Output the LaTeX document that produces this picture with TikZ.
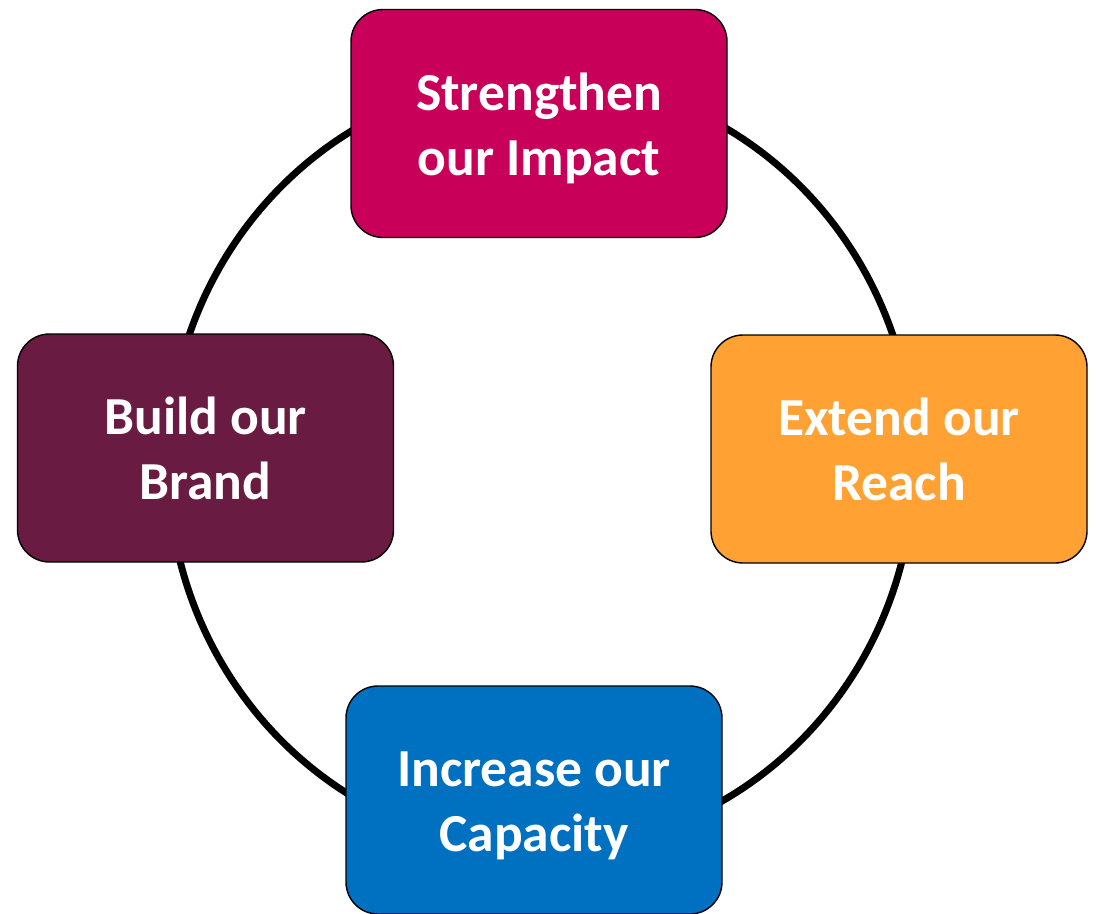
\documentclass[tikz,border=0pt]{standalone}
\usepackage{fontspec}
\setmainfont{Carlito}
\definecolor{impact}{HTML}{C8005A}
\definecolor{brand}{HTML}{6A1B41}
\definecolor{reach}{HTML}{FFA133}
\definecolor{capacity}{HTML}{0070C0}
% two centred lines, with extra room on top so they sit a little low
\newcommand\goallines[2]{\raisebox{0pt}[\dimexpr\height+12pt\relax][\depth]{\begin{tabular}{@{}c@{}}#1\\#2\end{tabular}}}
\tikzset{
  goal/.style={rectangle, rounded corners=32pt, draw=black, line width=1.4pt,
    minimum width=376pt, minimum height=228pt, inner sep=0pt,
    text=white, align=center,
    font=\bfseries\fontsize{53.5}{65}\selectfont},
  ring/.style={line width=7pt, draw=black}
}
\begin{document}
\begin{tikzpicture}[x=1pt,y=-1pt]
  \useasboundingbox (0,0) rectangle (1097,913);
  % cycle ring behind the boxes
  \draw[ring] (541,463.5) ellipse [x radius=373pt, y radius=386pt];
  % the four goals
  \node[goal, fill=impact]   (impact)   at (539,123.5) {\goallines{Strengthen}{our Impact}};
  \node[goal, fill=brand]    (brand)    at (205.5,448) {\goallines{Build our}{Brand}};
  \node[goal, fill=reach]    (reach)    at (899,449)   {\goallines{Extend our}{Reach}};
  \node[goal, fill=capacity] (capacity) at (534,800)   {\goallines{Increase our}{Capacity}};
\end{tikzpicture}
\end{document}
